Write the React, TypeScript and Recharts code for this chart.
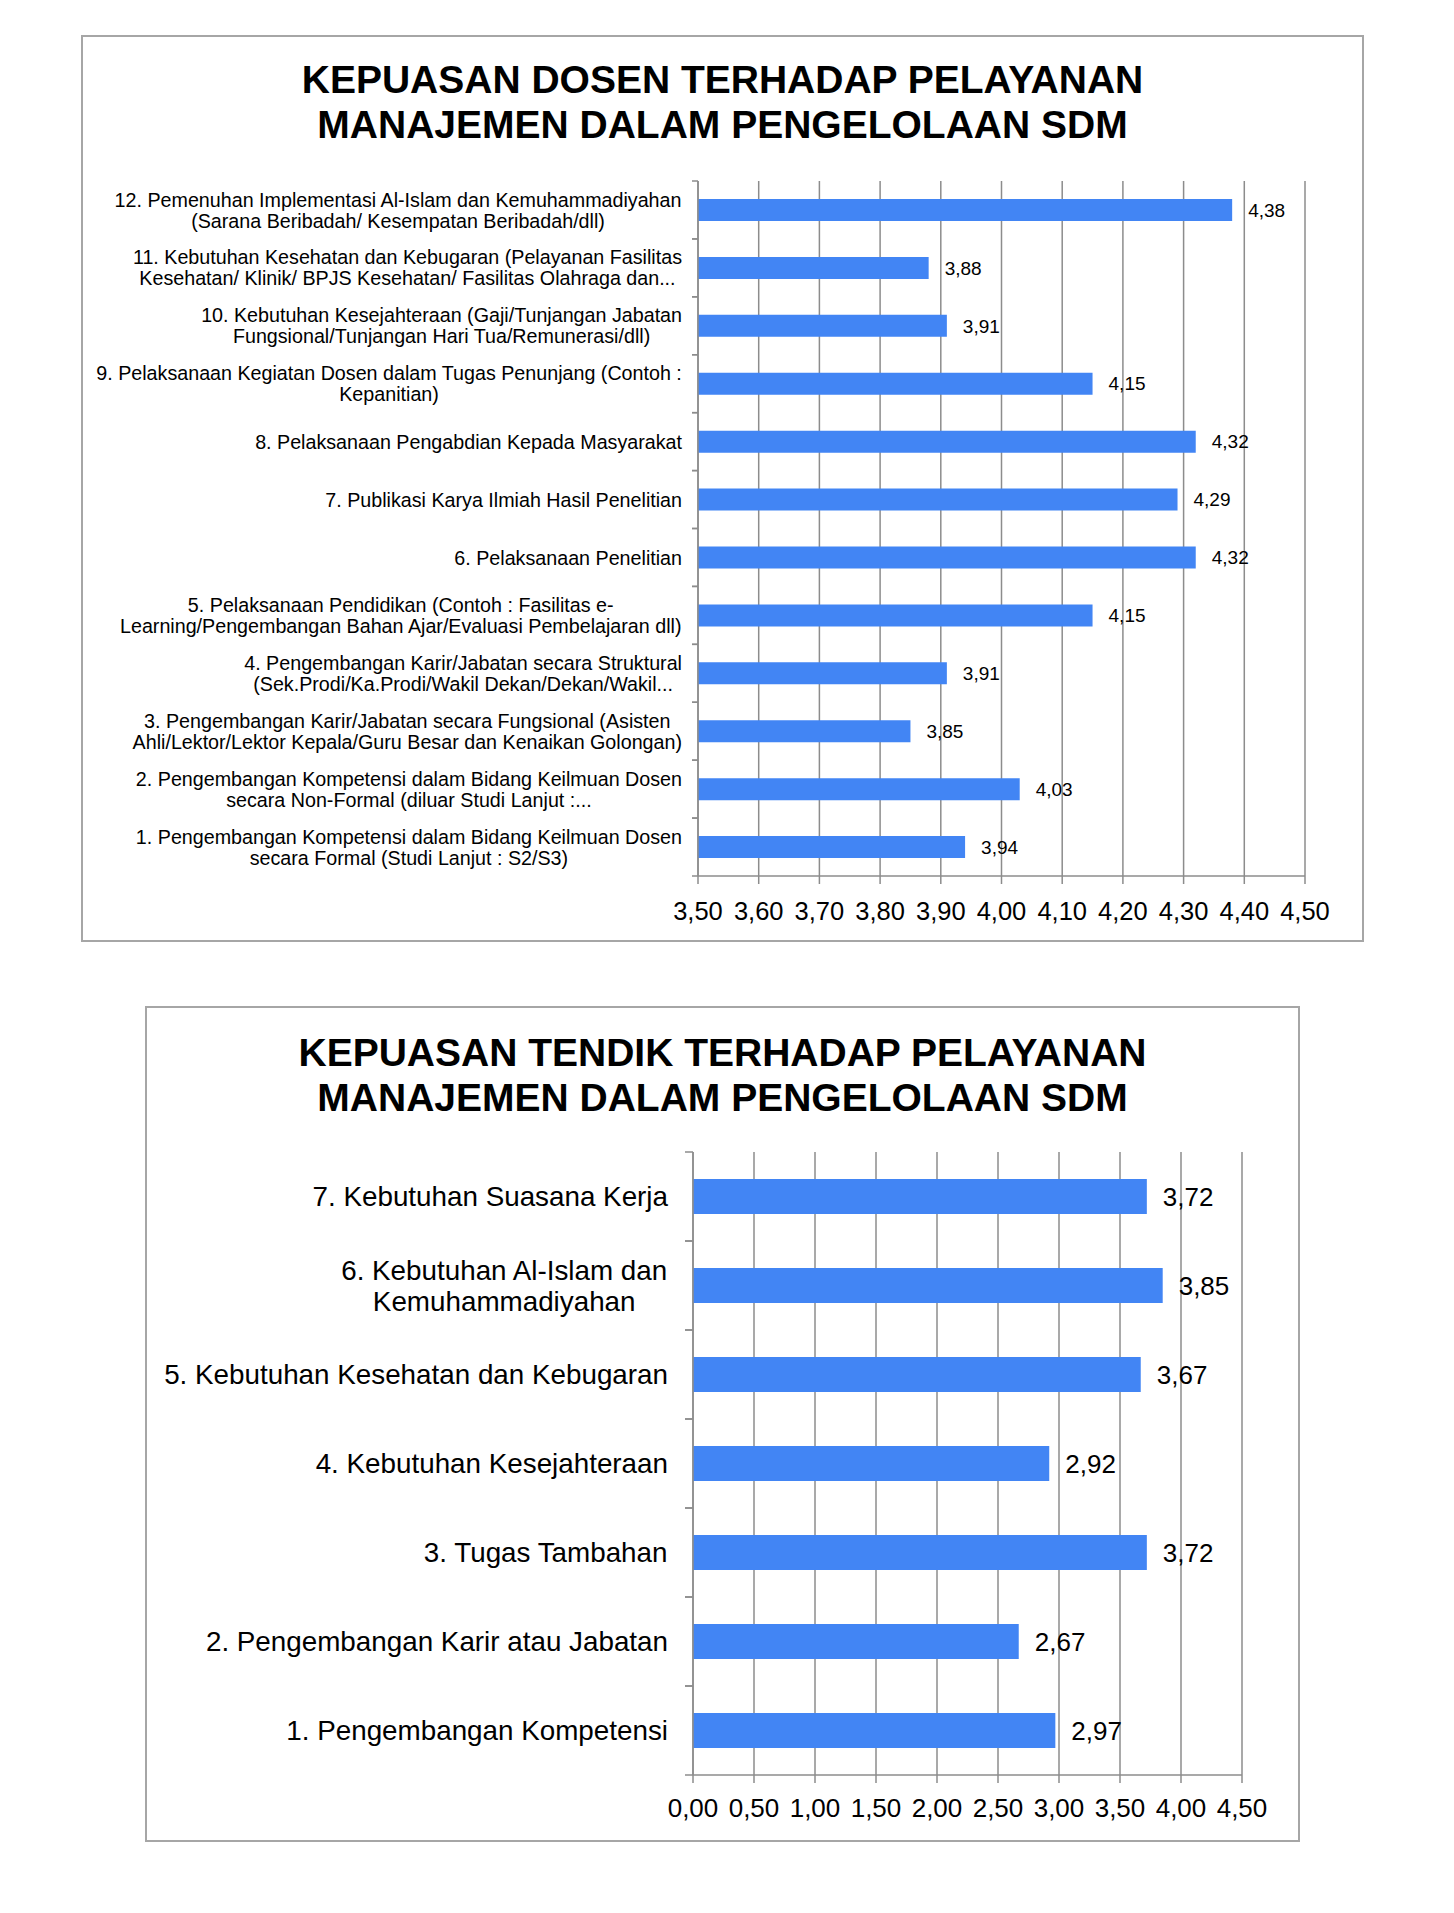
import React from "react"
import { Bar, BarChart, CartesianGrid, LabelList, XAxis, YAxis } from "recharts"

const FONT = '"Liberation Sans", Arial, sans-serif'
const BLUE = "#4285f4"
const GRID = "#8c8c8c"

// chart 1: dosen
const dosenTitle = ["KEPUASAN DOSEN TERHADAP PELAYANAN", "MANAJEMEN DALAM PENGELOLAAN SDM"]
const dosenCategories = [
  "1. Pengembangan Kompetensi dalam Bidang Keilmuan Dosen\nsecara Formal (Studi Lanjut : S2/S3)",
  "2. Pengembangan Kompetensi dalam Bidang Keilmuan Dosen\nsecara Non-Formal (diluar Studi Lanjut :...",
  "3. Pengembangan Karir/Jabatan secara Fungsional (Asisten\nAhli/Lektor/Lektor Kepala/Guru Besar dan Kenaikan Golongan)",
  "4. Pengembangan Karir/Jabatan secara Struktural\n(Sek.Prodi/Ka.Prodi/Wakil Dekan/Dekan/Wakil...",
  "5. Pelaksanaan Pendidikan (Contoh : Fasilitas e-\nLearning/Pengembangan Bahan Ajar/Evaluasi Pembelajaran dll)",
  "6. Pelaksanaan Penelitian",
  "7. Publikasi Karya Ilmiah Hasil Penelitian",
  "8. Pelaksanaan Pengabdian Kepada Masyarakat",
  "9. Pelaksanaan Kegiatan Dosen dalam Tugas Penunjang (Contoh :\nKepanitian)",
  "10. Kebutuhan Kesejahteraan (Gaji/Tunjangan Jabatan\nFungsional/Tunjangan Hari Tua/Remunerasi/dll)",
  "11. Kebutuhan Kesehatan dan Kebugaran (Pelayanan Fasilitas\nKesehatan/ Klinik/ BPJS Kesehatan/ Fasilitas Olahraga dan...",
  "12. Pemenuhan Implementasi Al-Islam dan Kemuhammadiyahan\n(Sarana Beribadah/ Kesempatan Beribadah/dll)",
]
const dosenValues = [3.94, 4.03, 3.85, 3.91, 4.15, 4.32, 4.29, 4.32, 4.15, 3.91, 3.88, 4.38]
const dosenTicks = [3.5, 3.6, 3.7, 3.8, 3.9, 4.0, 4.1, 4.2, 4.3, 4.4, 4.5]

// chart 2: tendik
const tendikTitle = ["KEPUASAN TENDIK TERHADAP PELAYANAN", "MANAJEMEN DALAM PENGELOLAAN SDM"]
const tendikCategories = [
  "1. Pengembangan Kompetensi",
  "2. Pengembangan Karir atau Jabatan",
  "3. Tugas Tambahan",
  "4. Kebutuhan Kesejahteraan",
  "5. Kebutuhan Kesehatan dan Kebugaran",
  "6. Kebutuhan Al-Islam dan\nKemuhammadiyahan",
  "7. Kebutuhan Suasana Kerja",
]
const tendikValues = [2.97, 2.67, 3.72, 2.92, 3.67, 3.85, 3.72]
const tendikTicks = [0, 0.5, 1.0, 1.5, 2.0, 2.5, 3.0, 3.5, 4.0, 4.5]

const comma = (v: any) => Number(v).toFixed(2).replace(".", ",")

let measureCtx: CanvasRenderingContext2D | null = null
function textWidth(s: string, font: string) {
  if (!measureCtx) measureCtx = document.createElement("canvas").getContext("2d")
  if (!measureCtx) return s.length * 10
  measureCtx.font = font
  return measureCtx.measureText(s).width
}

type TickCfg = {
  axisX: number
  labelRight: number
  half: number
  tickLen: number
  fontSize: number
  lineHeight: number
}

function CategoryTick(props: any) {
  const { y, payload, cfg } = props as { y: number; payload: any; cfg: TickCfg }
  const lines = String(payload.value).split("\n")
  const font = `${cfg.fontSize}px ${FONT}`
  const maxW = Math.max(...lines.map((l) => textWidth(l, font)))
  const cx = cfg.labelRight - maxW / 2
  const firstBase = y - ((lines.length - 1) * cfg.lineHeight) / 2 + (cfg.fontSize * 0.716) / 2
  return (
    <g>
      <line x1={cfg.axisX - cfg.tickLen} x2={cfg.axisX} y1={y - cfg.half} y2={y - cfg.half} stroke={GRID} strokeWidth={1.5} />
      <line x1={cfg.axisX - cfg.tickLen} x2={cfg.axisX} y1={y + cfg.half} y2={y + cfg.half} stroke={GRID} strokeWidth={1.5} />
      <text textAnchor="middle" fontSize={cfg.fontSize} fontFamily={FONT} fill="#000">
        {lines.map((l, i) => (
          <tspan key={i} x={cx} y={firstBase + i * cfg.lineHeight}>
            {l}
          </tspan>
        ))}
      </text>
    </g>
  )
}

type PanelProps = {
  box: { left: number; top: number; width: number; height: number }
  title: string[]
  titleTop: number
  categories: string[]
  values: number[]
  ticks: number[]
  plot: { left: number; right: number; top: number; bottom: number }
  barSize: number
  catFont: number
  catLine: number
  labelGap: number
  tickLen: number
  valueFont: number
  axisFont: number
  axisMargin: number
}

function Panel(p: PanelProps) {
  const data = p.categories.map((name, i) => ({ name, value: p.values[i] }))
  const w = p.box.width
  const h = p.box.height
  const xAxisHeight = 50
  const plotLeft = p.plot.left - p.box.left
  const plotTop = p.plot.top - p.box.top
  const plotBottom = p.plot.bottom - p.box.top
  const half = (p.plot.bottom - p.plot.top) / p.categories.length / 2
  const cfg: TickCfg = {
    axisX: plotLeft,
    labelRight: plotLeft - p.labelGap,
    half,
    tickLen: p.tickLen,
    fontSize: p.catFont,
    lineHeight: p.catLine,
  }
  return (
    <>
      <div
        style={{
          position: "absolute",
          left: p.box.left - 1,
          top: p.box.top - 1,
          width: w + 2,
          height: h + 2,
          border: "2px solid #a6a6a6",
          boxSizing: "border-box",
        }}
      />
      <div
        style={{
          position: "absolute",
          left: p.box.left,
          top: p.titleTop,
          width: w,
          textAlign: "center",
          fontFamily: FONT,
          fontWeight: "bold",
          fontSize: 39,
          lineHeight: "45px",
          color: "#000",
        }}
      >
        {p.title.map((t, i) => (
          <div key={i}>{t}</div>
        ))}
      </div>
      <div style={{ position: "absolute", left: p.box.left, top: p.box.top }}>
        <BarChart
          width={w}
          height={h}
          data={data}
          layout="vertical"
          margin={{ top: plotTop, right: w - (p.plot.right - p.box.left), left: 0, bottom: h - plotBottom - xAxisHeight }}
        >
          <CartesianGrid horizontal={false} stroke={GRID} strokeWidth={1.5} />
          <XAxis
            type="number"
            domain={[p.ticks[0], p.ticks[p.ticks.length - 1]]}
            ticks={p.ticks}
            interval={0}
            height={xAxisHeight}
            tickFormatter={comma}
            tick={{ fontSize: p.axisFont, fill: "#000", fontFamily: FONT }}
            axisLine={{ stroke: GRID, strokeWidth: 1.5 }}
            tickLine={{ stroke: GRID, strokeWidth: 1.5 }}
            tickSize={8}
            tickMargin={p.axisMargin}
          />
          <YAxis
            type="category"
            dataKey="name"
            reversed
            width={plotLeft}
            interval={0}
            axisLine={{ stroke: GRID, strokeWidth: 1.5 }}
            tickLine={false}
            tick={(props: any) => <CategoryTick {...props} cfg={cfg} />}
          />
          <Bar dataKey="value" fill={BLUE} barSize={p.barSize} isAnimationActive={false}>
            <LabelList
              dataKey="value"
              position="right"
              offset={16}
              formatter={comma}
              fontSize={p.valueFont}
              fontFamily={FONT}
              fill="#000"
            />
          </Bar>
        </BarChart>
      </div>
    </>
  )
}

export default function App() {
  return (
    <div style={{ position: "absolute", left: 0, top: 0, width: 1454, height: 1913, background: "#fff" }}>
      <Panel
        box={{ left: 82, top: 36, width: 1281, height: 905 }}
        title={dosenTitle}
        titleTop={57}
        categories={dosenCategories}
        values={dosenValues}
        ticks={dosenTicks}
        plot={{ left: 698, right: 1305, top: 181, bottom: 876 }}
        barSize={22}
        catFont={19.7}
        catLine={21}
        labelGap={16}
        tickLen={6}
        valueFont={19}
        axisFont={25.5}
        axisMargin={18}
      />
      <Panel
        box={{ left: 146, top: 1007, width: 1153, height: 834 }}
        title={tendikTitle}
        titleTop={1030}
        categories={tendikCategories}
        values={tendikValues}
        ticks={tendikTicks}
        plot={{ left: 693, right: 1242, top: 1152, bottom: 1775 }}
        barSize={35}
        catFont={27.8}
        catLine={31}
        labelGap={25}
        tickLen={8}
        valueFont={26}
        axisFont={26}
        axisMargin={16}
      />
    </div>
  )
}
